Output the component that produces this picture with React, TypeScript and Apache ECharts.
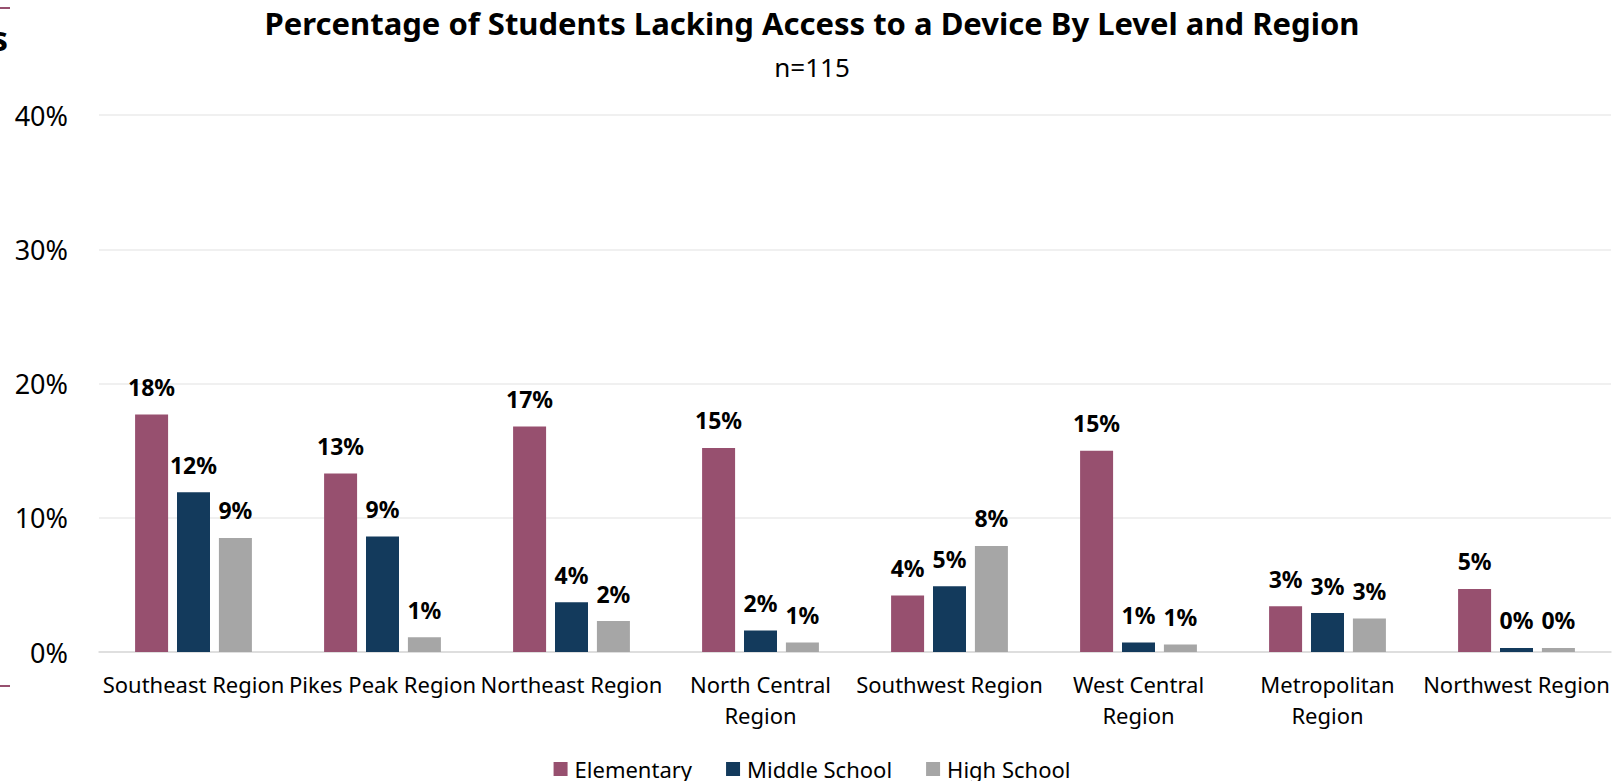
import React, { useEffect, useRef } from "react";
import * as echarts from "echarts";

const categories = [
  "Southeast Region",
  "Pikes Peak Region",
  "Northeast Region",
  "North Central\nRegion",
  "Southwest Region",
  "West Central\nRegion",
  "Metropolitan\nRegion",
  "Northwest Region",
];
const elementary = [17.7, 13.3, 16.8, 15.2, 4.2, 15.0, 3.4, 4.7];
const middleSchool = [11.9, 8.6, 3.7, 1.6, 4.9, 0.7, 2.9, 0.3];
const highSchool = [8.5, 1.1, 2.3, 0.7, 7.9, 0.55, 2.5, 0.3];
const seriesNames = ["Elementary", "Middle School", "High School"];
const colors = ["#97506F", "#133A5C", "#A6A6A6"];

const FONT = "'Noto Sans', 'Open Sans', sans-serif";

export default function App() {
  const ref = useRef<HTMLDivElement>(null);
  useEffect(() => {
    if (!ref.current) return;
    const chart = echarts.init(ref.current, undefined, { renderer: "svg" });
    const label = {
      show: true,
      position: "top",
      distance: 16,
      fontFamily: FONT,
      fontWeight: "bold",
      fontSize: 23,
      color: "#000",
      formatter: (p: any) => Math.round(p.value) + "%",
    };
    const mk = (name: string, data: number[], color: string) => ({
      name,
      type: "bar",
      data,
      barWidth: 33,
      barGap: "27%",
      itemStyle: { color },
      label,
    });
    chart.setOption({
      animation: false,
      textStyle: { fontFamily: FONT },
      title: {
        text: "Percentage of Students Lacking Access to a Device By Level and Region",
        subtext: "n=115",
        left: "center",
        top: 2,
        itemGap: 16,
        textStyle: { fontFamily: FONT, fontWeight: "bold", fontSize: 31, color: "#000" },
        subtextStyle: { fontFamily: FONT, fontSize: 26, color: "#000" },
      },
      legend: {
        data: seriesNames,
        left: "center",
        top: 753,
        itemWidth: 14,
        itemHeight: 14,
        itemGap: 34,
        icon: "rect",
        textStyle: { fontFamily: FONT, fontSize: 22, color: "#000", padding: [0, 0, 0, 2] },
      },
      grid: { left: 99, right: 13, top: 115, bottom: 129, containLabel: false },
      xAxis: {
        type: "category",
        data: categories,
        axisLine: { lineStyle: { color: "#D9D9D9", width: 1.5 } },
        axisTick: { show: false },
        axisLabel: {
          fontFamily: FONT,
          fontSize: 22,
          color: "#000",
          interval: 0,
          margin: 16,
          lineHeight: 31,
        },
      },
      yAxis: {
        type: "value",
        min: 0,
        max: 40,
        interval: 10,
        axisLine: { show: false },
        axisTick: { show: false },
        splitLine: { lineStyle: { color: "#EBEBEB", width: 1.5 } },
        axisLabel: {
          fontFamily: FONT,
          fontSize: 27,
          color: "#000",
          margin: 31,
          formatter: "{value}%",
        },
      },
      graphic: [
        {
          type: "text",
          left: -9,
          top: 21,
          style: { text: "s", fontFamily: FONT, fontWeight: "bold", fontSize: 34, fill: "#000" },
        },
        { type: "line", shape: { x1: 0, y1: 8, x2: 10, y2: 8 }, style: { stroke: "#97506F", lineWidth: 2 } },
        { type: "line", shape: { x1: 0, y1: 686, x2: 10, y2: 686 }, style: { stroke: "#97506F", lineWidth: 2 } },
      ],
      series: [
        mk(seriesNames[0], elementary, colors[0]),
        mk(seriesNames[1], middleSchool, colors[1]),
        mk(seriesNames[2], highSchool, colors[2]),
      ],
    });
    return () => chart.dispose();
  }, []);
  return <div ref={ref} style={{ width: 1624, height: 781, position: "absolute", left: 0, top: 0 }} />;
}
